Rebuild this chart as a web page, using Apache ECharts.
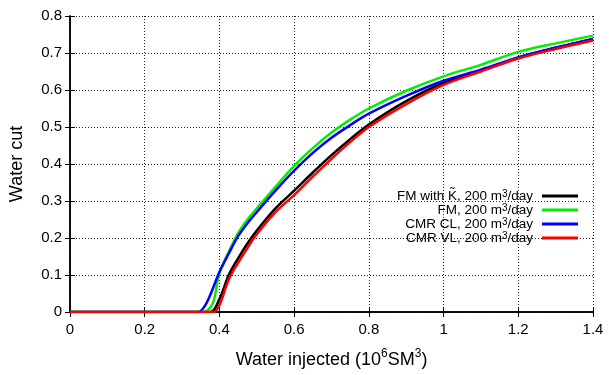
<!DOCTYPE html>
<html><head><meta charset="utf-8">
<script src="https://cdn.jsdelivr.net/npm/echarts@6/dist/echarts.min.js"></script>
<style>html,body{margin:0;padding:0;background:#fff}#c{width:609px;height:375px}</style>
</head><body><div id="c"></div>
<script>
// Series names
const seriesNames = ['FM with K\u0303, 200 m{sup|3}/day', 'FM, 200 m{sup|3}/day', 'CMR CL, 200 m{sup|3}/day', 'CMR VL, 200 m{sup|3}/day'];
const seriesColors = ['#000000', '#00ee00', '#0000ff', '#ff0000'];
// Values (x = water injected, 10^6 SM^3; y = water cut)
const blackX = [0, 0.3, 0.376, 0.4, 0.425, 0.45, 0.475, 0.5, 0.55, 0.6, 0.65, 0.7, 0.75, 0.8, 0.9, 1.0, 1.1, 1.2, 1.3, 1.4];
const blackY = [0, 0, 0, 0.035, 0.1, 0.145, 0.185, 0.22, 0.28, 0.328, 0.377, 0.424, 0.467, 0.507, 0.570, 0.619, 0.652, 0.688, 0.714, 0.738];
const greenX = [0, 0.3, 0.358, 0.375, 0.385, 0.4, 0.425, 0.45, 0.475, 0.5, 0.55, 0.6, 0.65, 0.7, 0.75, 0.8, 0.9, 1.0, 1.1, 1.2, 1.3, 1.4];
const greenY = [0, 0, 0, 0.012, 0.031, 0.105, 0.163, 0.213, 0.25, 0.28, 0.338, 0.395, 0.443, 0.485, 0.52, 0.55, 0.598, 0.637, 0.668, 0.703, 0.726, 0.747];
const blueX = [0, 0.3, 0.344, 0.36, 0.375, 0.4, 0.425, 0.45, 0.475, 0.5, 0.55, 0.6, 0.65, 0.7, 0.75, 0.8, 0.9, 1.0, 1.1, 1.2, 1.3, 1.4];
const blueY = [0, 0, 0, 0.015, 0.045, 0.108, 0.158, 0.205, 0.24, 0.27, 0.328, 0.382, 0.43, 0.471, 0.505, 0.536, 0.584, 0.625, 0.655, 0.688, 0.714, 0.738];
const redX = [0, 0.3, 0.385, 0.4, 0.425, 0.45, 0.475, 0.5, 0.55, 0.6, 0.65, 0.7, 0.75, 0.8, 0.9, 1.0, 1.1, 1.2, 1.3, 1.4];
const redY = [0, 0, 0, 0.018, 0.088, 0.133, 0.173, 0.21, 0.27, 0.316, 0.366, 0.414, 0.459, 0.500, 0.562, 0.614, 0.650, 0.685, 0.711, 0.734];
const xTicks = [0, 0.2, 0.4, 0.6, 0.8, 1, 1.2, 1.4];
const yTicks = [0, 0.1, 0.2, 0.3, 0.4, 0.5, 0.6, 0.7, 0.8];

const allX = [blackX, greenX, blueX, redX];
const allY = [blackY, greenY, blueY, redY];
const FONT = 'Liberation Sans, Arial, sans-serif';

const chart = echarts.init(document.getElementById('c'), null, {renderer: 'canvas'});
const series = seriesNames.map((n, i) => ({
  name: n, type: 'line', xAxisIndex: 0, yAxisIndex: 0,
  data: allX[i].map((x, j) => [x, allY[i][j]]),
  smooth: 0.35, symbol: 'none', clip: true,
  lineStyle: {color: seriesColors[i], width: 2.5},
  itemStyle: {color: seriesColors[i]},
  z: 3 + i
}));
const gridLine = {show: true, lineStyle: {color: '#222', type: [1, 2], width: 1}};
chart.setOption({
  animation: false,
  backgroundColor: '#fff',
  grid: {left: 70, right: 16, top: 16, bottom: 63, containLabel: false, outerBoundsMode: 'none'},
  legend: {
    orient: 'vertical', align: 'right', right: 26, top: 184,
    itemWidth: 36, itemHeight: 3, itemGap: 0,
    icon: 'rect',
    data: seriesNames.map((n, i) => ({name: n, itemStyle: {color: seriesColors[i]}})),
    textStyle: {fontFamily: FONT, fontSize: 13.5, color: '#000', lineHeight: 13, padding: [0, 4, 0, 0],
      rich: {sup: {fontFamily: FONT, fontSize: 10, lineHeight: 8, verticalAlign: 'top', color: '#000'}}}
  },
  xAxis: [{
    type: 'value', min: 0, max: 1.4, interval: 0.2,
    name: 'Water injected (10{sup|6}SM{sup|3})', nameLocation: 'middle', nameGap: 36,
    nameTextStyle: {fontFamily: FONT, fontSize: 18, color: '#000', lineHeight: 24,
      rich: {sup: {fontFamily: FONT, fontSize: 12, lineHeight: 12, verticalAlign: 'top', color: '#000'}}},
    axisLine: {lineStyle: {color: '#000', width: 1.5}},
    axisTick: {inside: true, length: 5, lineStyle: {color: '#000'}},
    axisLabel: {fontFamily: FONT, fontSize: 15, color: '#000', margin: 10,
      formatter: v => { const t = xTicks.find(k => Math.abs(k - v) < 1e-9); return t === undefined ? '' : String(t); }},
    splitLine: gridLine
  }, {
    type: 'value', position: 'top', min: 0, max: 1.4, interval: 0.2,
    axisLine: {show: true, lineStyle: {color: '#000', width: 1.5}},
    axisTick: {show: true, inside: true, length: 5, lineStyle: {color: '#000'}},
    axisLabel: {show: false}, splitLine: {show: false}
  }],
  yAxis: [{
    type: 'value', min: 0, max: 0.8, interval: 0.1,
    name: 'Water cut', nameLocation: 'middle', nameGap: 44, nameRotate: 90,
    nameTextStyle: {fontFamily: FONT, fontSize: 18, color: '#000'},
    axisLine: {show: true, lineStyle: {color: '#000', width: 1.5}},
    axisTick: {show: true, inside: true, length: 5, lineStyle: {color: '#000'}},
    axisLabel: {fontFamily: FONT, fontSize: 15, color: '#000', margin: 8,
      formatter: v => { const t = yTicks.find(k => Math.abs(k - v) < 1e-9); return t === undefined ? '' : String(t); }},
    splitLine: gridLine
  }, {
    type: 'value', position: 'right', min: 0, max: 0.8, interval: 0.1,
    axisLine: {show: true, lineStyle: {color: '#000', width: 1.5}},
    axisTick: {show: true, inside: true, length: 5, lineStyle: {color: '#000'}},
    axisLabel: {show: false}, splitLine: {show: false}
  }],
  series: series
});
</script></body></html>
